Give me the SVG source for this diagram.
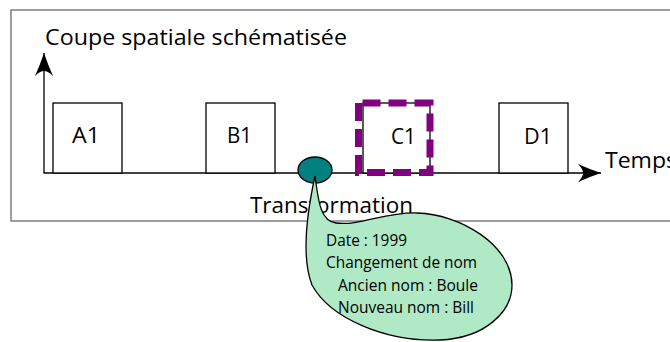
<svg xmlns="http://www.w3.org/2000/svg" width="670" height="342" viewBox="0 0 670 342">
<style>
.t{font-family:"Open Sans",Lato,"Liberation Sans",sans-serif;fill:#000}
.big{font-size:21px}
.small{font-size:16.5px}
.box{fill:#fff;stroke:#000;stroke-width:1.3}
.axis{stroke:#000;stroke-width:1.3;fill:none}
</style>
<defs>
<marker id="arr" viewBox="-24 -10 26 20" markerWidth="26" markerHeight="20" refX="0" refY="0" orient="auto" markerUnits="userSpaceOnUse">
<path d="M0,0 Q-12,-4 -23,-9 Q-18,-4 -18,0 Q-18,4 -23,9 Q-12,4 0,0 Z" fill="#000"/>
</marker>
</defs>
<rect x="11" y="10" width="690" height="211" fill="#fff" stroke="#6b6b6b" stroke-width="1.3"/>
<text class="t big" x="45" y="45" textLength="302" lengthAdjust="spacingAndGlyphs">Coupe spatiale schématisée</text>
<g id="connectors">
<line class="axis" x1="44" y1="173" x2="44" y2="53" marker-end="url(#arr)"/>
<line class="axis" x1="43.5" y1="173" x2="601" y2="173" marker-end="url(#arr)"/>
</g>
<text class="t big" x="605" y="168" textLength="72" lengthAdjust="spacingAndGlyphs">Temps</text>
<g id="A1">
<rect class="box" x="53" y="103" width="69" height="70"/>
<text class="t big" x="72" y="143" textLength="28" lengthAdjust="spacingAndGlyphs">A1</text>
</g>
<g id="B1">
<rect class="box" x="206" y="103" width="69" height="70"/>
<text class="t big" x="227" y="143" textLength="25" lengthAdjust="spacingAndGlyphs">B1</text>
</g>
<g id="C1">
<rect class="box" x="363" y="103" width="67" height="70"/>
<rect x="358.5" y="103" width="71.5" height="69.5" fill="none" stroke="#800080" stroke-width="7" stroke-dasharray="18 8" stroke-dashoffset="-4"/>
<text class="t big" x="391" y="144" textLength="25" lengthAdjust="spacingAndGlyphs">C1</text>
</g>
<g id="D1">
<rect class="box" x="499" y="103" width="69" height="70"/>
<text class="t big" x="524" y="144" textLength="28" lengthAdjust="spacingAndGlyphs">D1</text>
</g>
<text class="t big" x="250" y="213" textLength="163" lengthAdjust="spacingAndGlyphs">Transformation</text>
<g id="transformation">
<ellipse cx="315" cy="170" rx="17" ry="13" fill="#008080" stroke="#000" stroke-width="1.3"/>
<path d="M315,176 C318,196 319,221 336,223 C360,226 385,212 417,213 C460,214 512,245 512,285 C512,312 485,338 440,340 C385,342 330,318 312,285 C303,262 305,222 315,176 Z" fill="#afe9c6" stroke="#000" stroke-width="1.3"/>
<text class="t small" x="326" y="246" textLength="81" lengthAdjust="spacingAndGlyphs">Date : 1999</text>
<text class="t small" x="326" y="268" textLength="151" lengthAdjust="spacingAndGlyphs">Changement de nom</text>
<text class="t small" x="338" y="291" textLength="140" lengthAdjust="spacingAndGlyphs">Ancien nom : Boule</text>
<text class="t small" x="338" y="313" textLength="136" lengthAdjust="spacingAndGlyphs">Nouveau nom : Bill</text>
</g>
</svg>
